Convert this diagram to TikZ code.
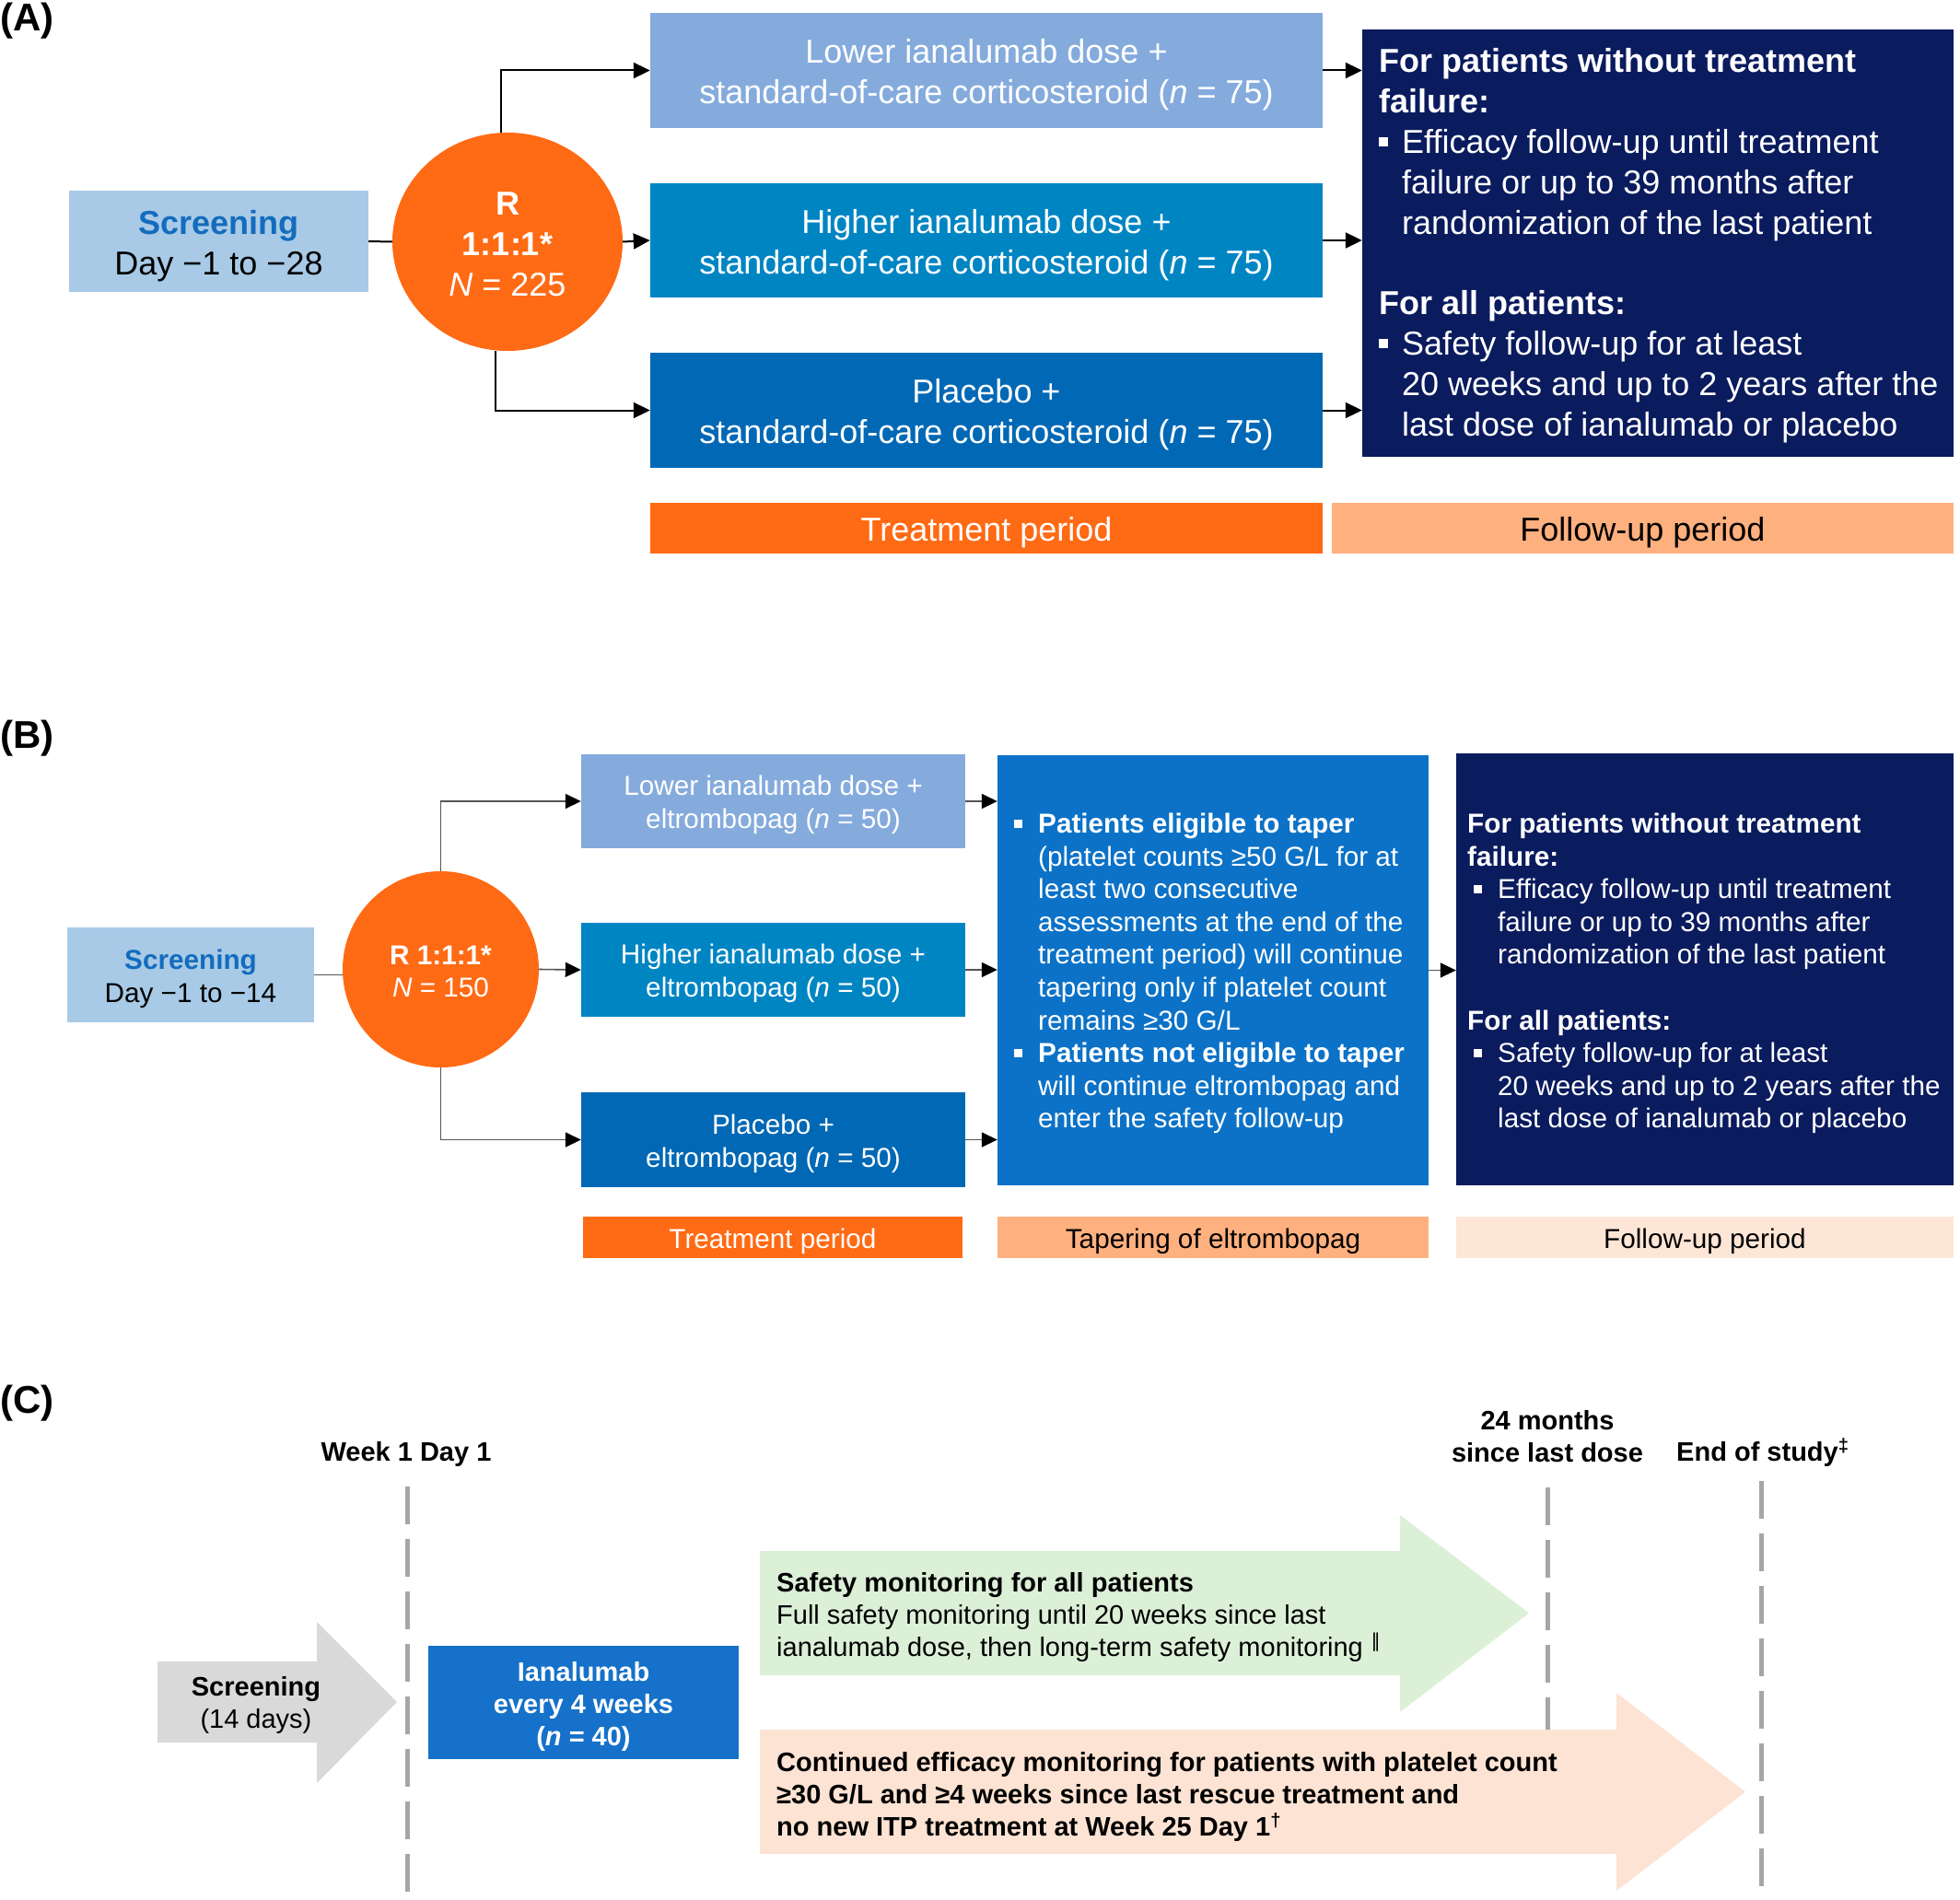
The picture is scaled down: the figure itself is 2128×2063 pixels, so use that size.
\documentclass[tikz,border=0pt]{standalone}
\usepackage{fontspec}
\setmainfont{Liberation Sans}
\newfontfamily\dejavu{DejaVu Sans}
\usetikzlibrary{arrows.meta,shapes.geometric,calc}
\definecolor{scrblue}{HTML}{A8CAE6}
\definecolor{scrtext}{HTML}{136CBD}
\definecolor{orng}{HTML}{FF6A14}
\definecolor{lowc}{HTML}{85ABDD}
\definecolor{higc}{HTML}{0085C3}
\definecolor{plac}{HTML}{0068B5}
\definecolor{navy}{HTML}{0A1B5E}
\definecolor{peach}{HTML}{FFB07F}
\definecolor{tapc}{HTML}{0B72C7}
\definecolor{lpeach}{HTML}{FDE6D6}
\definecolor{grayarr}{HTML}{D9D9D9}
\definecolor{ianac}{HTML}{1571C9}
\definecolor{greenarr}{HTML}{DCF0D8}
\definecolor{peacharr}{HTML}{FDE3D3}
\definecolor{dashg}{HTML}{A6A6A6}
\definecolor{lineB}{HTML}{555555}
\newcommand\fA{\fontsize{36}{43.8}\selectfont}
\newcommand\fB{\fontsize{29.7}{35.6}\selectfont}
\newcommand\fC{\fontsize{29}{35}\selectfont}
\newcommand\fL{\fontsize{42}{48}\selectfont\bfseries}
\newcommand\Bsq{\rule[0.2em]{0.28em}{0.28em}}
\newcommand\tp{\rule{0pt}{1em}}
\newcommand\tc{\rule{0pt}{0.85em}}
\begin{document}
\begin{tikzpicture}[x=1pt,y=-1pt,
  box/.style={inner sep=0pt, align=center, text=white},
  lineA/.style={line width=2pt},
  connA/.style={line width=2pt, -{Triangle[length=18pt,width=17pt]}},
  lineBs/.style={line width=1.6pt, lineB},
  connB/.style={line width=1.6pt, lineB, -{Triangle[length=17pt,width=16pt,color=black]}},
  lab/.style={font=\fL, inner sep=0pt, anchor=base west},
  vline/.style={dashg, line width=5pt, dash pattern=on 41pt off 16pt},
  txt/.style={inner sep=0pt, align=left, anchor=west, text=white},
]
\useasboundingbox (0,0) rectangle (2128,2063);

% ---------------- Panel A ----------------
\node[lab] (labA) at (0,34) {(A)};
\node[box, fill=scrblue, text=black, minimum width=325pt, minimum height=110pt, font=\fA] (scrA) at (237.5,262) {\tp\textcolor{scrtext}{\textbf{Screening}}\\Day −1 to −28};
\node[ellipse, fill=orng, inner sep=0pt, minimum width=250pt, minimum height=237pt, text=white, align=center, font=\fA] (RA) at (551,262.5) {\tc\textbf{R}\\\textbf{1:1:1*}\\\textit{N} = 225};
\node[box, fill=lowc, minimum width=730pt, minimum height=125pt, font=\fA] (lowA) at (1071,76.5) {\tp Lower ianalumab dose +\\standard-of-care corticosteroid (\textit{n} = 75)};
\node[box, fill=higc, minimum width=730pt, minimum height=124pt, font=\fA] (higA) at (1071,261) {\tp Higher ianalumab dose +\\standard-of-care corticosteroid (\textit{n} = 75)};
\node[box, fill=plac, minimum width=730pt, minimum height=125pt, font=\fA] (plaA) at (1071,445.5) {\tp Placebo +\\standard-of-care corticosteroid (\textit{n} = 75)};
\node[box, fill=orng, minimum width=730pt, minimum height=55pt, font=\fA] (trtA) at (1071,573.5) {\tp Treatment period};
\node[box, fill=peach, text=black, minimum width=675pt, minimum height=55pt, font=\fA] (fupA) at (1783.5,573.5) {\tp Follow-up period};
\node[fill=navy, inner sep=0pt, minimum width=642pt, minimum height=464pt] (navA) at (1800,264) {};
\node[txt, font=\fA] (navAt) at (1497,267.3) {\textbf{For patients without treatment}\strut\\
\textbf{failure:}\\
\makebox[25pt][l]{\Bsq}Efficacy follow-up until treatment\\
\hspace*{25pt}failure or up to 39 months after\\
\hspace*{25pt}randomization of the last patient\\[43.8pt]
\textbf{For all patients:}\\
\makebox[25pt][l]{\Bsq}Safety follow-up for at least\\
\hspace*{25pt}20 weeks and up to 2 years after the\\
\hspace*{25pt}last dose of ianalumab or placebo\strut};

\draw[lineA] (scrA.east) -- (RA.west);
\draw[connA] ([xshift=-7pt]RA.north) |- (lowA.west);
\draw[connA] (RA.east) -- (higA.west);
\draw[connA] ([xshift=-13pt]RA.south) |- (plaA.west);
\draw[connA] (lowA.east) -- (lowA.east -| navA.west);
\draw[connA] (higA.east) -- (higA.east -| navA.west);
\draw[connA] (plaA.east) -- (plaA.east -| navA.west);

% ---------------- Panel B ----------------
\node[lab] (labB) at (0,812) {(B)};
\node[box, fill=scrblue, text=black, minimum width=268pt, minimum height=103pt, font=\fB] (scrB) at (207,1058.5) {\tp\textcolor{scrtext}{\textbf{Screening}}\\Day −1 to −14};
\node[circle, fill=orng, inner sep=0pt, minimum size=213pt, text=white, align=center, font=\fB] (RB) at (478.5,1052.5) {\tc\textbf{R 1:1:1*}\\\textit{N} = 150};
\node[box, fill=lowc, minimum width=417pt, minimum height=102pt, font=\fB] (lowB) at (839.5,870) {\tp Lower ianalumab dose +\\eltrombopag (\textit{n} = 50)};
\node[box, fill=higc, minimum width=417pt, minimum height=102pt, font=\fB] (higB) at (839.5,1053) {\tp Higher ianalumab dose +\\eltrombopag (\textit{n} = 50)};
\node[box, fill=plac, minimum width=417pt, minimum height=103pt, font=\fB] (plaB) at (839.5,1237.5) {\tp Placebo +\\eltrombopag (\textit{n} = 50)};
\node[box, fill=orng, minimum width=412pt, minimum height=45pt, font=\fB] (trtB) at (839,1343.5) {\tp Treatment period};
\node[fill=tapc, inner sep=0pt, minimum width=468pt, minimum height=467pt] (tapB) at (1317,1053.5) {};
\node[box, fill=peach, text=black, minimum width=468pt, minimum height=45pt, font=\fB] (tapbar) at (1317,1343.5) {\tp Tapering of eltrombopag};
\node[fill=navy, inner sep=0pt, minimum width=540pt, minimum height=469pt] (navB) at (1851,1052.5) {};
\node[box, fill=lpeach, text=black, minimum width=540pt, minimum height=45pt, font=\fB] (fupB) at (1851,1343.5) {\tp Follow-up period};

\node[txt, font=\fB] (tapBt) at (1101,1057.6) {\makebox[26pt][l]{\Bsq}\textbf{Patients eligible to taper}\strut\\
\hspace*{26pt}(platelet counts ≥50 G/L for at\\
\hspace*{26pt}least two consecutive\\
\hspace*{26pt}assessments at the end of the\\
\hspace*{26pt}treatment period) will continue\\
\hspace*{26pt}tapering only if platelet count\\
\hspace*{26pt}remains ≥30 G/L\\
\makebox[26pt][l]{\Bsq}\textbf{Patients not eligible to taper}\\
\hspace*{26pt}will continue eltrombopag and\\
\hspace*{26pt}enter the safety follow-up\strut};

\node[txt, font=\fB] (navBt) at (1593,1057.6) {\textbf{For patients without treatment}\strut\\
\textbf{failure:}\\
\hspace*{7pt}\makebox[26pt][l]{\Bsq}Efficacy follow-up until treatment\\
\hspace*{33pt}failure or up to 39 months after\\
\hspace*{33pt}randomization of the last patient\\[35.6pt]
\textbf{For all patients:}\\
\hspace*{7pt}\makebox[26pt][l]{\Bsq}Safety follow-up for at least\\
\hspace*{33pt}20 weeks and up to 2 years after the\\
\hspace*{33pt}last dose of ianalumab or placebo\strut};

\draw[lineBs] (scrB.east) -- (scrB.east -| RB.west);
\draw[connB] (RB.north) |- (lowB.west);
\draw[connB] (RB.east) -- (higB.west);
\draw[connB] (RB.south) |- (plaB.west);
\draw[connB] (lowB.east) -- (lowB.east -| tapB.west);
\draw[connB] (higB.east) -- (higB.east -| tapB.west);
\draw[connB] (plaB.east) -- (plaB.east -| tapB.west);
\draw[connB] (tapB.east) -- (tapB.east -| navB.west);

% ---------------- Panel C ----------------
\node[lab] (labC) at (0,1534) {(C)};
\node[font=\fC\bfseries, inner sep=0pt, anchor=base] (wk1) at (441,1586) {Week 1 Day 1};
\node[font=\fC\bfseries, inner sep=0pt, align=center] (m24) at (1680,1562.5) {24 months\strut\\since last dose\strut};
\node[font=\fC\bfseries, inner sep=0pt, anchor=base west] (eos) at (1820,1586) {End of study\textsuperscript{‡}};

\coordinate (d1a) at (442,1614); \coordinate (d1b) at (442,2058);
\coordinate (d2a) at (1680,1615); \coordinate (d2b) at (1680,1878);
\coordinate (d3a) at (1912,1608); \coordinate (d3b) at (1912,2051);
\draw[vline] (d1a) -- (d1b);
\draw[vline] (d2a) -- (d2b);
\draw[vline] (d3a) -- (d3b);

\fill[grayarr] (171,1804) -- (344,1804) -- (344,1761) -- (431,1848) -- (344,1936) -- (344,1892) -- (171,1892) -- cycle;
\node[font=\fC, align=center, inner sep=0pt] (scrC) at (278,1850) {\tc\textbf{Screening}\\(14 days)};

\node[box, fill=ianac, minimum width=337pt, minimum height=123pt, font=\fC\bfseries] (iana) at (633.5,1848.5) {\tp Ianalumab\\every 4 weeks\\(\textit{n} = 40)};

\fill[greenarr] (825,1684) -- (1520,1684) -- (1520,1645) -- (1660,1751.5) -- (1520,1859) -- (1520,1819) -- (825,1819) -- cycle;
\node[txt, text=black, font=\fC] (safety) at (843,1756) {\textbf{Safety monitoring for all patients}\strut\\
Full safety monitoring until 20 weeks since last\\
ianalumab dose, then long-term safety monitoring\hspace{0.3em}\textsuperscript{\dejavu ‖}\strut};

\fill[peacharr] (825,1878) -- (1755,1878) -- (1755,1838) -- (1895,1945.5) -- (1755,2053) -- (1755,2013) -- (825,2013) -- cycle;
\node[txt, text=black, font=\fC\bfseries] (effic) at (843,1951) {Continued efficacy monitoring for patients with platelet count\strut\\
≥30 G/L and ≥4 weeks since last rescue treatment and\\
no new ITP treatment at Week 25 Day 1\textsuperscript{†}\strut};
\end{tikzpicture}
\end{document}
